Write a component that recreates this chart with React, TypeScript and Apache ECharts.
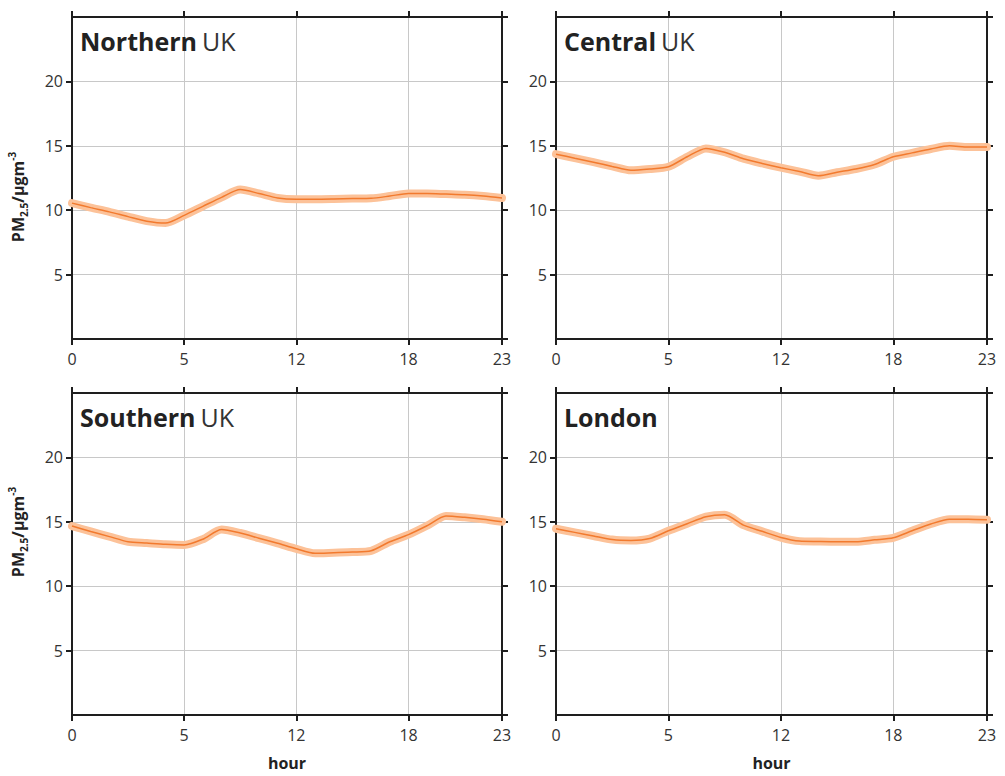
import React, { useEffect, useRef } from "react";
import * as echarts from "echarts";

const hours = [0, 1, 2, 3, 4, 5, 6, 7, 8, 9, 10, 11, 12, 13, 14, 15, 16, 17, 18, 19, 20, 21, 22, 23];

const northern = [10.55, 10.2, 9.87, 9.5, 9.15, 9.0, 9.6, 10.3, 11.0, 11.6, 11.3, 10.95, 10.85, 10.85, 10.87, 10.9, 10.92, 11.1, 11.3, 11.3, 11.25, 11.2, 11.1, 10.95];
const central = [14.35, 14.04, 13.73, 13.4, 13.1, 13.2, 13.37, 14.15, 14.8, 14.5, 14.0, 13.63, 13.3, 13.0, 12.68, 12.95, 13.2, 13.55, 14.15, 14.45, 14.75, 15.0, 14.9, 14.9];
const southern = [14.67, 14.25, 13.85, 13.45, 13.35, 13.25, 13.2, 13.65, 14.4, 14.13, 13.73, 13.33, 12.9, 12.55, 12.6, 12.65, 12.75, 13.45, 14.0, 14.7, 15.45, 15.35, 15.2, 15.0];
const london = [14.46, 14.18, 13.9, 13.62, 13.55, 13.7, 14.3, 14.85, 15.4, 15.55, 14.74, 14.26, 13.78, 13.5, 13.47, 13.45, 13.45, 13.6, 13.76, 14.3, 14.83, 15.2, 15.2, 15.15];

const regionBold = ["Northern", "Central", "Southern", "London"];
const regionRest = ["UK", "UK", "UK", ""];
const regionValues = [northern, central, southern, london];

const xTickValues = [0, 6, 12, 18, 23];
const xTickLabels = ["0", "5", "12", "18", "23"];
const yMin = 0;
const yMax = 25;
const yStep = 5;
const xAxisName = "hour";

const FONT = "Open Sans";
const AXIS = "#1e1e1e";

const grids = [
  { left: 72, top: 17, width: 430, height: 322 },
  { left: 556, top: 17, width: 431, height: 322 },
  { left: 72, top: 393, width: 430, height: 322 },
  { left: 556, top: 393, width: 431, height: 322 },
];

export default function App() {
  const ref = useRef<HTMLDivElement>(null);
  useEffect(() => {
    if (!ref.current) return;
    const chart = echarts.init(ref.current, null, { renderer: "svg" });
    const xAxes: any[] = [];
    const yAxes: any[] = [];
    const series: any[] = [];
    const titles: any[] = [];
    grids.forEach((g, i) => {
      const axisLine = { show: true, onZero: false, lineStyle: { color: AXIS, width: 2 } };
      const axisTick = { show: true, inside: false, length: 6, lineStyle: { color: AXIS, width: 2 } };
      xAxes.push({
        type: "value", gridIndex: i, position: "bottom", min: 0, max: 23, interval: 6,
        axisLine, axisTick,
        axisLabel: {
          show: true, margin: 12, color: "#333", fontSize: 16, fontFamily: FONT,
          formatter: (v: number) => { const k = xTickValues.indexOf(v); return k >= 0 ? xTickLabels[k] : ""; },
        },
        splitLine: { show: true, lineStyle: { color: "#c8c8c8", width: 1 } },
        name: i >= 2 ? xAxisName : "", nameLocation: "middle", nameGap: 40,
        nameTextStyle: { fontWeight: "bold", fontSize: 16, color: "#222", fontFamily: FONT },
      });
      xAxes.push({
        type: "value", gridIndex: i, position: "top", min: 0, max: 23, interval: 6,
        axisLine, axisTick, axisLabel: { show: false }, splitLine: { show: false },
      });
      yAxes.push({
        type: "value", gridIndex: i, position: "left", min: yMin, max: yMax, interval: yStep,
        axisLine, axisTick,
        axisLabel: { show: true, margin: 9, color: "#333", fontSize: 16, fontFamily: FONT, showMinLabel: false, showMaxLabel: false },
        splitLine: { show: true, lineStyle: { color: "#c8c8c8", width: 1 } },
      });
      yAxes.push({
        type: "value", gridIndex: i, position: "right", min: yMin, max: yMax, interval: yStep,
        axisLine, axisTick, axisLabel: { show: false }, splitLine: { show: false },
      });
      const data = hours.map((h, k) => [h, regionValues[i][k]]);
      series.push({
        type: "line", xAxisIndex: 2 * i, yAxisIndex: 2 * i, data, showSymbol: false, smooth: 0.25,
        lineStyle: { color: "#fcc299", width: 8, cap: "round", join: "round" }, z: 2,
      });
      series.push({
        type: "line", xAxisIndex: 2 * i, yAxisIndex: 2 * i, data, showSymbol: false, smooth: 0.25,
        lineStyle: { color: "#f27a2e", width: 1.5 }, z: 3,
      });
      titles.push({
        text: regionRest[i] ? `{b|${regionBold[i]}} {n|${regionRest[i]}}` : `{b|${regionBold[i]}}`,
        left: g.left + 3, top: g.top + 6,
        textStyle: {
          rich: {
            b: { fontWeight: "bold", fontSize: 25, color: "#222", fontFamily: FONT },
            n: { fontWeight: "normal", fontSize: 25, color: "#333", fontFamily: FONT },
          },
        },
      });
    });
    const yLabel = (cy: number) => ({
      type: "text", x: 18, y: cy, rotation: Math.PI / 2,
      style: {
        text: "{a|PM}{s|2.5}{a|/μgm}{p|-3}",
        textAlign: "center", textVerticalAlign: "middle",
        rich: {
          a: { fontSize: 16, fontWeight: "bold", fill: "#222", fontFamily: FONT, lineHeight: 22 },
          s: { fontSize: 10, fontWeight: "bold", fill: "#222", fontFamily: FONT, verticalAlign: "bottom" },
          p: { fontSize: 10, fontWeight: "bold", fill: "#222", fontFamily: FONT, verticalAlign: "top" },
        },
      },
    });
    chart.setOption({
      animation: false,
      backgroundColor: "#fff",
      title: titles,
      grid: grids.map((g) => ({ ...g, containLabel: false })),
      xAxis: xAxes,
      yAxis: yAxes,
      series,
      graphic: [yLabel(197), yLabel(532)],
    });
    return () => chart.dispose();
  }, []);
  return <div ref={ref} style={{ position: "absolute", left: 0, top: 0, width: 1005, height: 776 }} />;
}
